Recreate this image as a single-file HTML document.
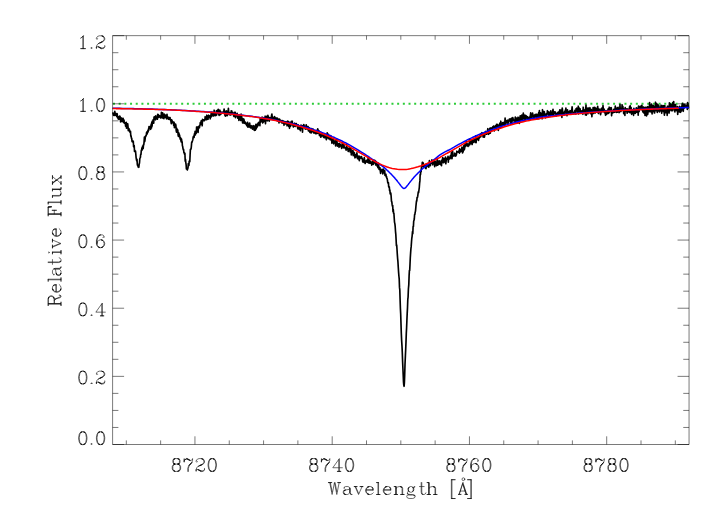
<!DOCTYPE html>
<html><head><meta charset="utf-8"><title>Spectrum</title><style>html,body{margin:0;padding:0;background:#fff;font-family:"Liberation Sans",sans-serif}svg{display:block}</style></head><body>
<svg width="723" height="516" viewBox="0 0 723 516">
<rect width="723" height="516" fill="#fff"/>
<defs><path id="g46" d="M4 -1 5 -2 6 -1 5 0 4 -1" vector-effect="non-scaling-stroke" fill="#000" fill-opacity="0.6"/><path id="g48" d="M11.5 -0.5 12 -0.5 13 -1 14 -2 15 -4 16 -9 16 -12 15 -17 14 -19 13 -20 11 -21 14 -20 12 -20.5 13 -20M11 0 13 -1M14 -1 16 -4 17 -9 17 -12 16 -17 14 -20M7 -1 8.5 -0.5 8.5 0 6 -1 9 0 7 -1 6 -2 5 -4 4 -9 4 -12 5 -17 6 -19 7 -20 9 -21 11 -21M6 -20 8.5 -21 8.5 -20.5 7 -20M9 0 11 0 14 -1 12 -0.5M9 -21 6 -20 4 -17 3 -12 3 -9 4 -4 6 -1M11.5 -20.5 12 -20.5" vector-effect="non-scaling-stroke"/><path id="g49" d="M8 -18 11 -21 10 -20 10 0 6 0 15 0 11 0 11 -21M10 -20 8 -18 6 -17M10 0 11 0" vector-effect="non-scaling-stroke"/><path id="g50" d="M14 -20 13 -20.5 12.5 -20.5M15 -20 13 -20.5M6 -3 11 -1 14 -1 16 -2 17 -3 17 -5M6 -8 8 -9 13 -11 16 -13 17 -15 17 -17 16 -19 15 -20 12 -21 8 -21 5 -20 4 -19 3 -17 3 -16 4 -15 5 -16 4 -17M3 -3 4 -6 6 -8 12 -11 15 -13 16 -15 16 -17 15 -19 14 -20 12 -21M9.5 -9.5 9 -9.5M13 -11 9.5 -9.5 9.5 -10 12 -11M3 -2 3 -3 3 0 3 -2 4 -3 6 -3 11 0 15 0 16 -1 17 -3M11 0 6.5 -2.5 6.5 -3 11 -1" vector-effect="non-scaling-stroke"/><path id="g52" d="M13 0 12 0 12 -6 2 -6 13 -21 13 -6 12 -6 12 -19M18 -6 13 -6 13 0 16 0 9 0 12 0" vector-effect="non-scaling-stroke"/><path id="g54" d="M10 -21 8 -20 6 -18 5 -16 4 -12 4 -7 4 -6 5 -3 7 -1 9 0 6 -1 4 -3 3 -6 3 -12 4 -16 5 -18 7 -20 9.5 -21 9.5 -20.5 8 -20M7 -20 10 -21 13 -21 15 -20 16 -18 16 -17 15 -16 14 -17 15 -18M11.5 -0.5 12 -0.5 13 -1 15 -3 16 -6 16 -7 15 -10 13 -12 12 -12.5 11.5 -12.5M11 0 13 -1M14 -1 16 -3 17 -6 17 -7 16 -10 14 -12 12 -12.5M4 -7 5 -10 7 -12 10 -13 11 -13 13 -12M6 -1 8 0 8.5 -0.5 7 -1M9 0 11 0 14 -1 12 -0.5M4 -12 4 -6M11 -13 14 -12" vector-effect="non-scaling-stroke"/><path id="g55" d="M3 -17 4 -19 6 -21 8 -21 12.5 -18.5 12.5 -18 8 -20 6 -20 4 -19 4.5 -19 6 -20M12 -10 15.5 -14 15.5 -14.5 11 -10 16 -15 12 -10 11 -8 10 -5 10 0M16 -15 17 -18 17 -21 16 -19 15 -18 13 -18 8 -20M9 0 9 -5 10 -8 11 -10M8 -21 13 -18M3 -17 3 -21 3 -15 3 -17" vector-effect="non-scaling-stroke"/><path id="g56" d="M6 -20 8 -21 5 -20 4 -18 4 -15 5 -13 7.5 -12 7.5 -11.5 6 -11 5 -10 4 -8 4 -4 5 -2 6 -1 7.5 -0.5 7.5 0 5 -1 4 -2 3 -4 3 -8 4 -10 5 -11 7.5 -12 7.5 -12.5 6 -13 8 -12 12 -12 15 -11 16 -10 17 -8 17 -4 16 -2 15 -1 12 0 14 -1 13 -0.5 12.5 -0.5M12.5 -12.5 13 -12.5 15 -13 12 -12 14 -13 13 -12.5M14 -20 15 -18 15 -15 14 -13M6 -1 8 0 5 -1M12.5 -11.5 13 -11.5 15 -11M6 -11 8 -12 5 -11M5 -13 8 -12M12.5 -20.5 13 -20.5 14 -20 12 -21 8 -21M15 -13 16 -15 16 -18 15 -20 13 -20.5M13 -0.5 15 -1M8 0 12 0M5 -20 7.5 -21 7.5 -20.5 6 -20 5 -18 5 -15 6 -13M14 -11 12 -12M12 -21 15 -20M14 -1 15 -2 16 -4 16 -8 15 -10 14 -11 13 -11.5" vector-effect="non-scaling-stroke"/><path id="g65" d="M5 -6 10 -21 17 0 16 0 10 -18 14 -6 5 -6 3 0 1 0 7 0 3 0 10 -21M17 0 19 0 13 0 16 0 14 -6" vector-effect="non-scaling-stroke"/><path id="g70" d="M5 0 2 0 9 0 6 0 6 -21 17 -21 18 -15 18 -21 2 -21 5 -21 6 -21 6 -11 12 -11 12 -7 12 -15 12 -11M5 -21 5 0 6 0 6 -11M17 -21 18 -21 18 -15.5 17 -21" vector-effect="non-scaling-stroke"/><path id="g82" d="M16 -20 14 -21 6 -21 6 0 9 0 2 0 5 0 5 -21 6 -21 6 -11 14 -11 17 -12 18 -13 19 -15 19 -17 18 -19 17 -20 14 -21 2 -21 5 -21M16 -12 15 -11.5 17 -12M11 -11 13 -10 13 -9.5 14 -8 16 -1 17 0 19 0 20 -2 19 -1 18 -1 17 -2 14 -9 13 -10 14 -8M5 0 6 0 6 -11 11 -11 14 -11 16 -12 17 -13 18 -15 18 -17 17 -19 16 -20 15 -20.5 17 -20M14.5 -20.5 15 -20.5M14.5 -11.5 15 -11.5M20 -3 20 -2" vector-effect="non-scaling-stroke"/><path id="g87" d="M4 -21 1 -21 8 -21 5 -21 4 -21 8 0 12 -21 16 0 20 -21 17 -21 23 -21 20 -21M13 -21 16 -5M5 -21 8 -5" vector-effect="non-scaling-stroke"/><path id="g91" d="M4 -25 5 -25 11 -25 4 -25 4 7 11 7 5 7 5 -25M4 7 5 7" vector-effect="non-scaling-stroke"/><path id="g93" d="M10 7 3 7 9 7 10 7 10 -25 3 -25 9 -25 9 7M9 -25 10 -25" vector-effect="non-scaling-stroke"/><path id="g97" d="M15 -1 16.5 0 17 0 16 -1 15 -3 15 -10 14 -12 14 -10 13 -9 7 -8 4 -7 3 -5 3 -3 4 -1 6.5 0 6.5 -0.5 5 -1 7 0 4 -1M14 -10 14 -3 12 -1 10 0 7 0M5 -7 7 -8M18 0 17 0 15 -1 14 -3 14 -12 13 -13 11 -14 7 -14 5 -13 4 -12 4 -11 5 -11 5 -12M4 -7 6.5 -8 6.5 -7.5 5 -7 4 -5 4 -3 5 -1" vector-effect="non-scaling-stroke"/><path id="g101" d="M16 -8 16 -10 15 -12 14 -13 15 -11 14 -12.5 14 -13 12 -14 9 -14 7 -13 5 -11 4 -8 16 -8 15 -8 15 -11M6 -13 4 -11 3 -8 3 -6 4 -3 6 -1 8.5 0 8.5 -0.5 7 -1 5 -3 4 -6 4 -8 15 -8M7 -1 9 0 6 -1M7 -13 8.5 -13.5 8.5 -14 6 -13 9 -14M9 0 11 0 14 -1 16 -3" vector-effect="non-scaling-stroke"/><path id="g103" d="M5 -7 6 -5.5 6 -5 8 -4 10 -4 12 -5 13 -7 13 -11 12 -12.5 12 -13 13 -12 14 -10 14 -8 13 -6 12 -5 12 -5.5 13 -7M14 -13 16 -14 16 -13 14 -13 13 -12M5 -11 5 -7 6 -5 5 -6 4 -5 3 -3 3 -2 4 -1 7 0 12 0 15 1 16 2.5 16 3 15 1M5 -6 4 -8 4 -10 5 -12 6 -13 8 -14 10 -14 12 -13 13 -11M6 0 5 0.5 3 1 2 3 2 4 3 6 6 7 12 7 15 6 16 4 16 3 15 2 12 1 7 1 5 0.5 4 0 3 -2M5 -11 6 -13 6 -12.5 5 -11" vector-effect="non-scaling-stroke"/><path id="g104" d="M14 -13.5 15 -13 13 -14 11 -14 8 -13 6 -11 6 -21 5 -21 5 0 2 0 9 0 6 0 6 -21 2 -21 5 -21M13.5 -13.5 14 -13.5 16 -13 17 -11 17 0 20 0 13 0 16 0 17 0M5 0 6 0 6 -11M16 0 16 -11 15 -13M13 -14 16 -13" vector-effect="non-scaling-stroke"/><path id="g105" d="M5 0 5 -14 2 -14 6 -14 5 -14M6 -14 6 0 9 0 2 0 5 0 6 0M5 -19 6 -20 5 -21 4 -20 5 -19" vector-effect="non-scaling-stroke"/><path id="g108" d="M5 0 2 0 9 0 6 0 6 -21 5 -21 5 0 6 0M6 -21 2 -21 5 -21" vector-effect="non-scaling-stroke"/><path id="g110" d="M14 -13.5 15 -13 13 -14 11 -14 8 -13 6 -11 6 -14 2 -14 5 -14 6 -14 6 0 9 0 2 0 5 0 5 -14M13.5 -13.5 14 -13.5 16 -13 17 -11 17 0 20 0 13 0 16 0 17 0M5 0 6 0 6 -11M16 0 16 -11 15 -13M13 -14 16 -13" vector-effect="non-scaling-stroke"/><path id="g116" d="M6 -1 7.5 0 8 0 7 -1 6 -4 6 -14 5 -14 2 -14M13 -3 12 -1 10 0 8 0 6 -1 5 -4 5 -14 5 -21M10 -14 6 -14 6 -21" vector-effect="non-scaling-stroke"/><path id="g117" d="M17 -14 13 -14 16 -14 16 -3 14 -1 11 0 9 0 7 -1 8.5 -0.5 8.5 0 6 -1 9 0M6 -1 5 -3 5 -14 2 -14 6 -14 5 -14M16 -3 16 0 20 0 17 0 17 -14 16 -14 16 0 17 0M7 -1 6 -3 6 -14" vector-effect="non-scaling-stroke"/><path id="g118" d="M4 -14 9 -2M15 -14 9 0 3 -14 1 -14 7 -14 4 -14 3 -14M15 -14 11 -14 17 -14 15 -14" vector-effect="non-scaling-stroke"/><path id="g120" d="M16 -14 10 -7.5 10 -8 5 -14 10 -7.5 16 0 15 0 12 0 18 0 16 0M4 0 10 -6.5 10 -7.5 10 -7 10 -6.5 4 -14 2 -14 8 -14 5 -14 4 -14M10 -6.5 15 0M12 -14 16 -14 18 -14 12 -14M4 0 2 0 8 0 4 0" vector-effect="non-scaling-stroke"/></defs>
<g fill="none" stroke-linejoin="round" stroke-linecap="butt">
<line x1="113" y1="103.79" x2="689" y2="103.79" stroke="#2ccc38" stroke-width="1.9" stroke-dasharray="2 3.683"/>
<polyline stroke="#000" stroke-width="1.65" points="112.6,113.5 112.9,113 113.2,114 113.5,115.2 113.8,114.5 114.1,115.5 114.5,113.7 114.8,111.4 115.1,114.9 115.4,115.2 115.7,113.3 116,113.7 116.3,114.3 116.6,116.4 116.9,114.9 117.2,113.7 117.5,117.6 117.8,116.2 118.2,119 118.5,118.1 118.8,119.3 119.1,116.5 119.4,118.6 119.7,116 120,116.4 120.3,117.3 120.6,121.9 120.9,118.5 121.2,118 121.6,118.1 121.9,121.5 122.2,119.9 122.5,121.3 122.8,121.4 123.1,118.4 123.4,122.3 123.7,121.3 124,120.1 124.3,123.2 124.6,122.8 125,122.9 125.3,123.4 125.6,126.2 125.9,124.3 126.2,122.4 126.5,128.1 126.8,124.2 127.1,126.1 127.4,128 127.7,123.7 128,126.5 128.3,130.6 128.7,128.9 129,128.7 129.3,130.7 129.6,129.9 129.9,132.1 130.2,131.7 130.5,131.4 130.8,136.2 131.1,135.8 131.4,138.1 131.7,138.2 132.1,141.6 132.4,141.6 132.7,141.9 133,141 133.3,141.5 133.6,146.8 133.9,146.9 134.2,145.5 134.5,151.4 134.8,150.3 135.1,151.6 135.5,151.2 135.8,154 136.1,157.6 136.4,159.4 136.7,160.8 137,159.3 137.3,164.3 137.6,165.6 137.9,165.6 138.2,167 138.5,166.8 138.8,167.3 139.2,163.9 139.5,163 139.8,158.7 140.1,158 140.4,157.4 140.7,154.4 141,154.4 141.3,150.3 141.6,150.4 141.9,147.9 142.2,150 142.6,146.1 142.9,148.7 143.2,148.4 143.5,144.5 143.8,144.7 144.1,141.8 144.4,137.1 144.7,141.5 145,140 145.3,137.4 145.6,135.8 146,135.9 146.3,135 146.6,132.4 146.9,131.9 147.2,133.9 147.5,131.5 147.8,130.7 148.1,132 148.4,129 148.7,130.4 149,126.6 149.3,127.4 149.7,127.1 150,127.8 150.3,126.4 150.6,129.3 150.9,127.2 151.2,124 151.5,128 151.8,122 152.1,126.2 152.4,121 152.7,123.4 153.1,119.9 153.4,120.6 153.7,123.1 154,117.5 154.3,116.7 154.6,119.1 154.9,119.1 155.2,118.6 155.5,119.8 155.8,115.8 156.1,118.6 156.5,117.5 156.8,118.7 157.1,118.2 157.4,119.2 157.7,114.4 158,116.8 158.3,114.6 158.6,116.2 158.9,117.4 159.2,116.6 159.5,116.9 159.8,115.7 160.2,116.3 160.5,116.1 160.8,118 161.1,116.9 161.4,112.4 161.7,116.6 162,117.3 162.3,114.8 162.6,112.8 162.9,118.1 163.2,115.8 163.6,116.6 163.9,118.7 164.2,114.1 164.5,115.6 164.8,115.5 165.1,117.1 165.4,115 165.7,117 166,116.4 166.3,118.4 166.6,118.9 167,114.4 167.3,118.1 167.6,116.9 167.9,117.7 168.2,118.8 168.5,119.2 168.8,117.3 169.1,119.3 169.4,119.3 169.7,119.3 170,117.5 170.3,118.8 170.7,119.7 171,121.8 171.3,123.6 171.6,119.8 171.9,120.2 172.2,122.6 172.5,121.8 172.8,121.7 173.1,122.1 173.4,122.4 173.7,125.3 174.1,122.2 174.4,127.7 174.7,124.4 175,125.6 175.3,125.4 175.6,124.1 175.9,125.4 176.2,130.7 176.5,132.2 176.8,128.3 177.1,132.2 177.5,130.9 177.8,130 178.1,135 178.4,136.4 178.7,132.8 179,133.8 179.3,134.9 179.6,135 179.9,137.3 180.2,139.2 180.5,137.6 180.8,139.8 181.2,141.9 181.5,139.1 181.8,141.4 182.1,141.8 182.4,145.7 182.7,146.6 183,148.6 183.3,149.9 183.6,149.5 183.9,152.8 184.2,152.5 184.6,154.3 184.9,153.3 185.2,161.1 185.5,159.2 185.8,162.6 186.1,164.5 186.4,168.9 186.7,169 187,168.2 187.3,169.9 187.6,168.9 188,168 188.3,163.6 188.6,163.6 188.9,165.5 189.2,161.1 189.5,161.4 189.8,161.7 190.1,155 190.4,149.4 190.7,149.2 191,149.2 191.3,147.1 191.7,142 192,142.3 192.3,141.3 192.6,140.4 192.9,139.2 193.2,136.8 193.5,136.3 193.8,136 194.1,137.4 194.4,133.8 194.7,135.2 195.1,131.3 195.4,134.9 195.7,132.2 196,131.3 196.3,133.1 196.6,127.1 196.9,127 197.2,129.9 197.5,127.2 197.8,127.4 198.1,132.4 198.4,126.7 198.8,126.9 199.1,126.2 199.4,127.8 199.7,126 200,125.4 200.3,122.5 200.6,123.7 200.9,124 201.2,120.8 201.5,124.2 201.8,123.6 202.2,125.8 202.5,119.3 202.8,120.1 203.1,119.8 203.4,120 203.7,120.7 204,120.2 204.3,120.7 204.6,120.3 204.9,119.6 205.2,116.7 205.6,118.1 205.9,119 206.2,119.7 206.5,119.6 206.8,115.2 207.1,117 207.4,117.6 207.7,118.1 208,119.3 208.3,117.1 208.6,115.2 208.9,117.3 209.3,116.8 209.6,116.6 209.9,115.8 210.2,118.8 210.5,116.1 210.8,117.1 211.1,113.7 211.4,116.6 211.7,114 212,112.1 212.3,115.3 212.7,115.7 213,114.1 213.3,114.3 213.6,116 213.9,113.2 214.2,110.2 214.5,114.3 214.8,114 215.1,115.5 215.4,112.9 215.7,115.7 216.1,115.4 216.4,110.9 216.7,114.9 217,111.2 217.3,110.3 217.6,112.6 217.9,112 218.2,109.4 218.5,113.4 218.8,114.1 219.1,115.4 219.4,112.8 219.8,110.1 220.1,111.1 220.4,114.6 220.7,114.4 221,113.7 221.3,112.2 221.6,113.1 221.9,112.3 222.2,112.1 222.5,113.2 222.8,112.7 223.2,112.2 223.5,112.8 223.8,111.7 224.1,109.1 224.4,111.5 224.7,112.4 225,115.7 225.3,111.8 225.6,116.1 225.9,115.1 226.2,110.9 226.6,111.2 226.9,112.8 227.2,115.6 227.5,113.2 227.8,113.7 228.1,111.3 228.4,108.3 228.7,112.1 229,114 229.3,114.7 229.6,112.7 229.9,113 230.3,114.8 230.6,112.6 230.9,115 231.2,110.9 231.5,111 231.8,111.1 232.1,114.1 232.4,112.3 232.7,113.6 233,114.2 233.3,114.2 233.7,116.1 234,116.5 234.3,112.4 234.6,114.4 234.9,113.7 235.2,112.4 235.5,117.6 235.8,116 236.1,114.4 236.4,114.2 236.7,115.8 237.1,113.4 237.4,115.2 237.7,118.1 238,117.8 238.3,114.9 238.6,115.8 238.9,120.4 239.2,114.7 239.5,116.3 239.8,115.2 240.1,118.6 240.4,118.7 240.8,120.5 241.1,114 241.4,119.2 241.7,116.3 242,120.6 242.3,119.4 242.6,123 242.9,120.9 243.2,118.7 243.5,123 243.8,119 244.2,120.6 244.5,123.3 244.8,122.6 245.1,122.7 245.4,122.2 245.7,123.4 246,124.2 246.3,123.5 246.6,125.1 246.9,125.8 247.2,123.8 247.6,122.4 247.9,127.1 248.2,124.5 248.5,126 248.8,126.8 249.1,123.8 249.4,126.5 249.7,123.1 250,127.4 250.3,125.5 250.6,126.8 250.9,128 251.3,125.7 251.6,127.2 251.9,126 252.2,127.3 252.5,129.2 252.8,127.5 253.1,127.3 253.4,125.7 253.7,129.1 254,127.5 254.3,130.5 254.7,126.1 255,129 255.3,130.2 255.6,126.8 255.9,124.4 256.2,128.9 256.5,127.8 256.8,126.8 257.1,127.2 257.4,124.1 257.7,125.9 258.1,125.4 258.4,122.7 258.7,124.8 259,122.3 259.3,124.6 259.6,124.7 259.9,125.6 260.2,118.6 260.5,122.4 260.8,121.1 261.1,121.3 261.4,120.7 261.8,120.7 262.1,117 262.4,122.2 262.7,122.9 263,121.7 263.3,122.1 263.6,118.1 263.9,117.7 264.2,120.8 264.5,121.5 264.8,119.5 265.2,116.2 265.5,123.8 265.8,117.6 266.1,120.4 266.4,116.4 266.7,120.2 267,118.7 267.3,120.8 267.6,119.8 267.9,115.4 268.2,116.4 268.6,118.5 268.9,119.3 269.2,121.1 269.5,118.3 269.8,117.6 270.1,117.7 270.4,117.7 270.7,119.5 271,117.6 271.3,117.5 271.6,115.1 271.9,114 272.3,117.7 272.6,118.8 272.9,117.6 273.2,118.6 273.5,118.9 273.8,117.7 274.1,119.5 274.4,116.5 274.7,117.9 275,117.3 275.3,118.2 275.7,119.2 276,119.7 276.3,118.5 276.6,119.2 276.9,117.9 277.2,118.4 277.5,121 277.8,118.5 278.1,121.2 278.4,120 278.7,119.5 279,123 279.4,119.1 279.7,119.2 280,119.9 280.3,120.6 280.6,120.6 280.9,121.9 281.2,120.8 281.5,121.5 281.8,120.5 282.1,123.1 282.4,120.7 282.8,121.1 283.1,121.8 283.4,122.6 283.7,121 284,125.3 284.3,121.6 284.6,122 284.9,122 285.2,121.9 285.5,123.9 285.8,123.2 286.2,121.7 286.5,122.1 286.8,122.6 287.1,125.8 287.4,122.2 287.7,121.1 288,121.4 288.3,122.9 288.6,126.3 288.9,121.8 289.2,123.8 289.5,128.3 289.9,123 290.2,126.5 290.5,126.2 290.8,125.1 291.1,121.7 291.4,124.8 291.7,123.7 292,121.1 292.3,121.5 292.6,124.6 292.9,125 293.3,126.9 293.6,125.9 293.9,124 294.2,124.1 294.5,124.7 294.8,123.2 295.1,126.5 295.4,125.3 295.7,123.9 296,124.3 296.3,123.5 296.7,124.8 297,126.2 297.3,125 297.6,127.6 297.9,128.8 298.2,124.9 298.5,126.1 298.8,125.6 299.1,129.3 299.4,127 299.7,127.5 300,128 300.4,130.6 300.7,127.3 301,125.1 301.3,126.1 301.6,128 301.9,127 302.2,125.7 302.5,132.2 302.8,127.5 303.1,126.4 303.4,126.3 303.8,124.5 304.1,125.7 304.4,127.2 304.7,127.4 305,126.6 305.3,129.1 305.6,128.3 305.9,126.7 306.2,124.9 306.5,128.8 306.8,128.8 307.2,128.4 307.5,126.5 307.8,129.1 308.1,126.5 308.4,131 308.7,129.7 309,129.8 309.3,128.2 309.6,127.8 309.9,132.5 310.2,131.6 310.5,129.4 310.9,131.3 311.2,133 311.5,128.5 311.8,129.6 312.1,129.7 312.4,131.6 312.7,129 313,131.4 313.3,129.2 313.6,132.9 313.9,132.9 314.3,131.1 314.6,132.9 314.9,130.5 315.2,131.4 315.5,133.7 315.8,132 316.1,132.9 316.4,130.7 316.7,133.7 317,133.4 317.3,130.6 317.7,128.9 318,129.5 318.3,133.1 318.6,132.9 318.9,130.7 319.2,133.8 319.5,135.5 319.8,133.6 320.1,133.2 320.4,135.6 320.7,137.2 321,137 321.4,133.4 321.7,136 322,135.1 322.3,134.6 322.6,134 322.9,135.9 323.2,134.5 323.5,137.1 323.8,136.3 324.1,137.7 324.4,134 324.8,136.2 325.1,137.6 325.4,137 325.7,137 326,135.5 326.3,139.7 326.6,138.9 326.9,137.8 327.2,132.8 327.5,135.8 327.8,137.8 328.2,136.5 328.5,134.3 328.8,138.5 329.1,138.9 329.4,136.3 329.7,137.7 330,137.6 330.3,139.8 330.6,135.7 330.9,136.2 331.2,138.4 331.5,138.4 331.9,143.3 332.2,138.8 332.5,140.4 332.8,139.5 333.1,139.2 333.4,141.2 333.7,143.8 334,140.3 334.3,142.4 334.6,141.9 334.9,142.5 335.3,142.2 335.6,145.9 335.9,139.8 336.2,141.7 336.5,140.4 336.8,139 337.1,142.7 337.4,146.1 337.7,144.6 338,145.4 338.3,144.3 338.7,143.5 339,147.3 339.3,143.4 339.6,146.8 339.9,143.8 340.2,144.7 340.5,145.3 340.8,145.1 341.1,146.1 341.4,146.4 341.7,148.4 342,145.7 342.4,142.6 342.7,142.6 343,143.9 343.3,145.2 343.6,147.8 343.9,144.3 344.2,147.1 344.5,147.3 344.8,147.9 345.1,147.5 345.4,148.6 345.8,148.2 346.1,150.1 346.4,149.1 346.7,144.6 347,148.9 347.3,149.4 347.6,148.3 347.9,148.2 348.2,151.5 348.5,150.2 348.8,148.4 349.2,149.7 349.5,150.2 349.8,147.9 350.1,152 350.4,150.9 350.7,152.1 351,148.8 351.3,155 351.6,153 351.9,153 352.2,151.1 352.5,151.4 352.9,150.3 353.2,155.6 353.5,151.8 353.8,153.9 354.1,154.7 354.4,152.9 354.7,155.6 355,157.8 355.3,155.1 355.6,157.3 355.9,156 356.3,154.5 356.6,154.8 356.9,152.8 357.2,156.1 357.5,158.6 357.8,157.5 358.1,158 358.4,158.8 358.7,156.1 359,158.2 359.3,160.7 359.7,156.3 360,157.9 360.3,157.3 360.6,158 360.9,157.3 361.2,158.5 361.5,156.6 361.8,158.2 362.1,158.5 362.4,158.6 362.7,162 363,160 363.4,160.3 363.7,159.6 364,162.5 364.3,157.5 364.6,160.2 364.9,162.6 365.2,163.5 365.5,161.1 365.8,160.9 366.1,162 366.4,160.7 366.8,162 367.1,160 367.4,162.3 367.7,161.1 368,159.4 368.3,156.8 368.6,162.9 368.9,162 369.2,162.7 369.5,160 369.8,163.3 370.1,162.2 370.5,161.5 370.8,163.2 371.1,163.2 371.4,162.3 371.7,165.1 372,164 372.3,162.2 372.6,161.2 372.9,161.8 373.2,164.5 373.5,162.2 373.9,160.1 374.2,160.5 374.5,161.6 374.8,163 375.1,160.5 375.4,163.4 375.7,165 376,164.9 376.3,161.6 376.6,164.3 376.9,163.2 377.3,166.5 377.6,164.6 377.9,167.7 378.2,167.4 378.5,163.4 378.8,166.8 379.1,169.4 379.4,169.1 379.7,168.8 380,167.7 380.3,171 380.6,173.4 381,171.3 381.3,171 381.6,171.1 381.9,169.3 382.2,171.2 382.5,170.5 382.8,174 383.1,170.8 383.4,169 383.7,171.4 384,172.6 384.4,173 384.7,170.6 385,175.5 385.3,174.6 385.6,174.1 385.9,174.3 386.2,176.9 386.5,176.4 386.8,178.2 387.1,178.4 387.4,179.9 387.8,182.9 388.1,182.5 388.4,182.5 388.7,187 389,187.1 389.3,186.8 389.6,190.8 389.9,190.1 390.2,194 390.5,192.7 390.8,193.2 391.1,195.9 391.5,201.5 391.8,201.7 392.1,204.4 392.4,206 392.7,205.4 393,211.6 393.3,209.6 393.6,213.4 393.9,213.3 394.2,217.8 394.5,222.1 394.9,223.9 395.2,226.7 395.5,231.3 395.8,234.3 396.1,239.6 396.4,245.6 396.7,245 397,249.2 397.3,254.1 397.6,258.3 397.9,261.3 398.3,267.7 398.6,272.4 398.9,276 399.2,278.8 399.5,287.4 399.8,289.9 400.1,299.5 400.4,308.4 400.7,314.2 401,323.9 401.3,333.1 401.6,339.9 402,346.1 402.3,352.8 402.6,361.4 402.9,368.2 403.2,375 403.5,382.1 403.8,385.1 404.1,386.3 404.4,382.6 404.7,374.6 405,364.5 405.4,355.6 405.7,349.1 406,342 406.3,333.4 406.6,327.7 406.9,320.3 407.2,313.4 407.5,307.7 407.8,299.3 408.1,297 408.4,289 408.8,284.6 409.1,275.9 409.4,270.6 409.7,270.5 410,264.4 410.3,257.6 410.6,253.1 410.9,249 411.2,246.4 411.5,242 411.8,238.3 412.1,236.3 412.5,231.6 412.8,233.8 413.1,226.6 413.4,226.6 413.7,221 414,220.4 414.3,219 414.6,214.7 414.9,214.4 415.2,212.2 415.5,211.1 415.9,206.5 416.2,203.6 416.5,200.8 416.8,200.9 417.1,197.3 417.4,197.5 417.7,196.4 418,194 418.3,191.8 418.6,192.6 418.9,190.5 419.3,187.5 419.6,183.2 419.9,180.9 420.2,174.3 420.5,174.6 420.8,171.2 421.1,171.7 421.4,168 421.7,166.6 422,166.9 422.3,162.4 422.6,165.2 423,162.6 423.3,164 423.6,166.7 423.9,166.1 424.2,164.6 424.5,165.1 424.8,165 425.1,165.5 425.4,168.1 425.7,165.1 426,168.6 426.4,163.8 426.7,165.7 427,165.5 427.3,164.5 427.6,163.5 427.9,166.4 428.2,166.8 428.5,165.5 428.8,167.1 429.1,165.1 429.4,160.5 429.8,165.1 430.1,162 430.4,165.6 430.7,162.6 431,163.6 431.3,163.2 431.6,162 431.9,159.9 432.2,162.7 432.5,162.8 432.8,164.8 433.1,162 433.5,163.5 433.8,161.6 434.1,163.2 434.4,160 434.7,166.7 435,163.7 435.3,161.6 435.6,163.8 435.9,164.6 436.2,163.7 436.5,165.7 436.9,163 437.2,158.8 437.5,161.1 437.8,165.1 438.1,164.6 438.4,163.7 438.7,161.1 439,164.3 439.3,164 439.6,161 439.9,160.9 440.3,163 440.6,164.2 440.9,164.8 441.2,163.1 441.5,165.7 441.8,160.2 442.1,162.5 442.4,160.4 442.7,157.7 443,158.8 443.3,162.8 443.6,159 444,158.4 444.3,161.6 444.6,161.9 444.9,160.2 445.2,162.7 445.5,157 445.8,163.8 446.1,161.3 446.4,159.7 446.7,159.4 447,158.5 447.4,158.2 447.7,158.9 448,156.3 448.3,162.1 448.6,158 448.9,159.1 449.2,157.4 449.5,157.1 449.8,159 450.1,158.3 450.4,155.6 450.7,156.2 451.1,157.9 451.4,152.8 451.7,152.1 452,158.8 452.3,155.4 452.6,151.3 452.9,154.2 453.2,155.1 453.5,155.6 453.8,156.1 454.1,155.3 454.5,155.7 454.8,153.2 455.1,155 455.4,154.9 455.7,156.1 456,153.8 456.3,155.1 456.6,153.6 456.9,151.2 457.2,152.2 457.5,151.7 457.9,151.7 458.2,152.1 458.5,152.2 458.8,152.3 459.1,150.1 459.4,153.2 459.7,148.6 460,150.7 460.3,151.9 460.6,151.2 460.9,151.3 461.2,149.5 461.6,150.9 461.9,147.2 462.2,150.5 462.5,153 462.8,149.9 463.1,152 463.4,148.2 463.7,145.9 464,146.4 464.3,149.8 464.6,148.5 465,143.7 465.3,146.1 465.6,146.4 465.9,144.3 466.2,141.5 466.5,143.4 466.8,145.3 467.1,144.6 467.4,143.9 467.7,145.9 468,146.5 468.4,144.2 468.7,145.8 469,143.9 469.3,143.4 469.6,139.1 469.9,144.7 470.2,143.1 470.5,142.9 470.8,141.6 471.1,140.2 471.4,142.8 471.7,143.2 472.1,144.5 472.4,142.9 472.7,140 473,140.7 473.3,142.4 473.6,141 473.9,140 474.2,138.9 474.5,140.7 474.8,139.9 475.1,142.5 475.5,141.1 475.8,135.8 476.1,142.6 476.4,139 476.7,137.8 477,138.7 477.3,139.3 477.6,137.7 477.9,137.4 478.2,137.4 478.5,140.5 478.9,137.2 479.2,138.3 479.5,137.6 479.8,136 480.1,135.1 480.4,134.4 480.7,136.8 481,134.1 481.3,133.4 481.6,133.4 481.9,132.7 482.2,135.4 482.6,135.3 482.9,133.3 483.2,137.2 483.5,134.1 483.8,135.3 484.1,134.8 484.4,137.2 484.7,135.5 485,133.7 485.3,131.8 485.6,131.5 486,133.2 486.3,133.2 486.6,134.2 486.9,131.8 487.2,132.8 487.5,131 487.8,128.7 488.1,131.8 488.4,134.3 488.7,132.9 489,133.8 489.4,133.1 489.7,128.4 490,130.2 490.3,133.2 490.6,129 490.9,127.8 491.2,130.5 491.5,131 491.8,130.2 492.1,128.9 492.4,128 492.7,126.9 493.1,126.6 493.4,126.5 493.7,126 494,127.1 494.3,131 494.6,128.2 494.9,127.3 495.2,128.4 495.5,125.8 495.8,128 496.1,128.8 496.5,124.4 496.8,125.6 497.1,126.3 497.4,124.8 497.7,124.4 498,125.6 498.3,130.5 498.6,127.1 498.9,126.6 499.2,127.4 499.5,125.1 499.9,123.1 500.2,126 500.5,127.1 500.8,121.2 501.1,125.6 501.4,126.9 501.7,124.1 502,123.6 502.3,125.5 502.6,122.7 502.9,124.9 503.2,125.6 503.6,123.4 503.9,122.3 504.2,124.7 504.5,122.8 504.8,123.5 505.1,118.1 505.4,124.4 505.7,120.5 506,123 506.3,123 506.6,121.4 507,121 507.3,120.2 507.6,121.8 507.9,123.4 508.2,123.2 508.5,121.2 508.8,120.9 509.1,119.4 509.4,121 509.7,119.8 510,118.9 510.4,121.2 510.7,124.1 511,123.4 511.3,123.8 511.6,118.2 511.9,122.5 512.2,118.7 512.5,119.8 512.8,117.6 513.1,118.8 513.4,120.7 513.7,120.8 514.1,120.2 514.4,119.9 514.7,121.1 515,120.1 515.3,117.1 515.6,122.9 515.9,119.3 516.2,121.3 516.5,119.3 516.8,118 517.1,119.5 517.5,118 517.8,122.1 518.1,117.2 518.4,120.2 518.7,117.9 519,118.6 519.3,123.4 519.6,120.1 519.9,118.3 520.2,115.8 520.5,118 520.9,118 521.2,120.8 521.5,115.7 521.8,115 522.1,118.1 522.4,118.4 522.7,120.8 523,116.3 523.3,113.1 523.6,116.5 523.9,115.4 524.2,116.6 524.6,119.3 524.9,115.1 525.2,119.6 525.5,117.7 525.8,116.8 526.1,115.7 526.4,116.4 526.7,116.4 527,118.3 527.3,119.2 527.6,116.8 528,118.1 528.3,119 528.6,118.9 528.9,117.5 529.2,119.8 529.5,118.9 529.8,119.3 530.1,116.1 530.4,115.6 530.7,112.8 531,118.8 531.3,117.4 531.7,114.6 532,116.4 532.3,116.6 532.6,113 532.9,116.5 533.2,117.8 533.5,118.1 533.8,115.2 534.1,115.2 534.4,118 534.7,117.3 535.1,114.6 535.4,114.5 535.7,116.6 536,114.3 536.3,114.4 536.6,118.4 536.9,115.8 537.2,114.5 537.5,116.2 537.8,118.8 538.1,115.6 538.5,113.8 538.8,112.3 539.1,118.7 539.4,110.5 539.7,116.8 540,113.2 540.3,112.7 540.6,113.1 540.9,114.4 541.2,116.6 541.5,113.6 541.8,115.8 542.2,118.8 542.5,109.7 542.8,113.3 543.1,111.4 543.4,115.9 543.7,111.9 544,111.6 544.3,111.7 544.6,114.3 544.9,116.2 545.2,114.5 545.6,117.8 545.9,117 546.2,113.9 546.5,115.7 546.8,114.3 547.1,114.1 547.4,110.7 547.7,111.7 548,113.9 548.3,111.8 548.6,115.1 549,114.3 549.3,112.2 549.6,115.8 549.9,114.1 550.2,115.8 550.5,113.4 550.8,110.8 551.1,114.8 551.4,113.1 551.7,115 552,115.4 552.3,115.5 552.7,110.9 553,109.4 553.3,112.5 553.6,114.5 553.9,112.1 554.2,113.8 554.5,111.9 554.8,112.7 555.1,112.7 555.4,112.1 555.7,114.1 556.1,113.8 556.4,116 556.7,113.8 557,115.4 557.3,113.2 557.6,114.6 557.9,112.8 558.2,112.1 558.5,115.3 558.8,114.2 559.1,114.4 559.5,111.5 559.8,109.8 560.1,111.3 560.4,113.3 560.7,110.2 561,115.3 561.3,110.1 561.6,113.8 561.9,117.4 562.2,108 562.5,109.8 562.8,114.3 563.2,112.2 563.5,112.9 563.8,112.3 564.1,115 564.4,113.6 564.7,111.6 565,112 565.3,110.2 565.6,112.2 565.9,108.1 566.2,113.6 566.6,111.8 566.9,115.7 567.2,114.5 567.5,109.8 567.8,113.9 568.1,111.2 568.4,112.2 568.7,114 569,112.7 569.3,113 569.6,112.9 570,110.6 570.3,110.8 570.6,113 570.9,113.6 571.2,111.4 571.5,112.1 571.8,110 572.1,106.9 572.4,110.3 572.7,111.9 573,112.2 573.3,113.4 573.7,113.5 574,113.7 574.3,112.5 574.6,112.6 574.9,110.3 575.2,112.5 575.5,112.1 575.8,114 576.1,108.5 576.4,110.7 576.7,108.2 577.1,110.1 577.4,108.7 577.7,112.1 578,110.2 578.3,106.2 578.6,114 578.9,109.2 579.2,108.1 579.5,110.7 579.8,110 580.1,108.9 580.5,112.8 580.8,110.6 581.1,113.2 581.4,112.8 581.7,112.7 582,111.7 582.3,111.1 582.6,110.4 582.9,114.3 583.2,107.2 583.5,108.9 583.8,109.8 584.2,112.1 584.5,111.5 584.8,110.1 585.1,110.4 585.4,114.9 585.7,109.7 586,105 586.3,115.2 586.6,109.1 586.9,110.4 587.2,111.4 587.6,108.2 587.9,113.8 588.2,110.8 588.5,108 588.8,111.6 589.1,112.1 589.4,110.9 589.7,112.1 590,107.7 590.3,113.1 590.6,109.1 591,113.9 591.3,109.6 591.6,111.3 591.9,116.8 592.2,111 592.5,113.4 592.8,112 593.1,107.5 593.4,113.5 593.7,113.4 594,107.7 594.3,110.7 594.7,107.4 595,110.2 595.3,112.9 595.6,111.1 595.9,108.1 596.2,108.7 596.5,110.9 596.8,110.8 597.1,111.1 597.4,112.2 597.7,106.4 598.1,110.8 598.4,113.5 598.7,111.9 599,109.1 599.3,109.3 599.6,111.1 599.9,112.3 600.2,110.7 600.5,114.7 600.8,113.8 601.1,108.8 601.5,111.8 601.8,109.8 602.1,107.8 602.4,109.1 602.7,110.6 603,105.6 603.3,109 603.6,111.5 603.9,108.9 604.2,109.6 604.5,112.6 604.8,110.4 605.2,111 605.5,115.3 605.8,111 606.1,111.2 606.4,111.6 606.7,114.5 607,111.4 607.3,110.6 607.6,110.2 607.9,113.2 608.2,108.9 608.6,113.4 608.9,111 609.2,107.2 609.5,112.1 609.8,111.7 610.1,107.7 610.4,111.3 610.7,111.1 611,109.8 611.3,107.7 611.6,115.8 611.9,112.4 612.3,112.8 612.6,113 612.9,112.4 613.2,112.4 613.5,109.5 613.8,112.5 614.1,109.9 614.4,109.2 614.7,112.1 615,109.9 615.3,106 615.7,109.4 616,111.8 616.3,110.3 616.6,112.5 616.9,109.5 617.2,107.9 617.5,112.2 617.8,110.7 618.1,107.3 618.4,111.4 618.7,109.6 619.1,112.7 619.4,112.2 619.7,111.4 620,104.5 620.3,111.1 620.6,111.4 620.9,111.5 621.2,110.4 621.5,108.3 621.8,109.5 622.1,104.7 622.4,109.4 622.8,106.2 623.1,109.2 623.4,108.4 623.7,113.7 624,110.3 624.3,110.1 624.6,110.5 624.9,115.5 625.2,107.6 625.5,110.9 625.8,111 626.2,110.5 626.5,110.5 626.8,108.8 627.1,113.2 627.4,112.3 627.7,109.1 628,109.4 628.3,110.8 628.6,111.3 628.9,112 629.2,109.9 629.6,106.6 629.9,112.6 630.2,105.7 630.5,107.5 630.8,110.9 631.1,107.6 631.4,113.6 631.7,114.3 632,113.1 632.3,110.8 632.6,110.5 632.9,111 633.3,109.4 633.6,115.4 633.9,108.3 634.2,113.4 634.5,111.4 634.8,110.7 635.1,112.7 635.4,113.3 635.7,112.3 636,109.6 636.3,107.9 636.7,108 637,112.2 637.3,111.7 637.6,112 637.9,108.3 638.2,115.1 638.5,106.1 638.8,110.8 639.1,111.6 639.4,108.5 639.7,106.6 640.1,108.5 640.4,106.5 640.7,109 641,106 641.3,105.9 641.6,109.6 641.9,105.3 642.2,108.9 642.5,109.1 642.8,111.9 643.1,110.1 643.4,107.1 643.8,113 644.1,107.4 644.4,108.3 644.7,108.5 645,115.5 645.3,109.5 645.6,107.4 645.9,111.4 646.2,108.9 646.5,115.9 646.8,107.3 647.2,111 647.5,106.7 647.8,114.4 648.1,107.1 648.4,109.8 648.7,106.8 649,111.7 649.3,110.8 649.6,102.6 649.9,111.4 650.2,111.1 650.6,109.8 650.9,112 651.2,105.6 651.5,104 651.8,111 652.1,114 652.4,105.6 652.7,105.7 653,106.6 653.3,105.6 653.6,111.4 653.9,109.4 654.3,112.9 654.6,113 654.9,106 655.2,110.8 655.5,102.2 655.8,108.6 656.1,110.7 656.4,106.5 656.7,103.5 657,107.4 657.3,112.4 657.7,107.7 658,104.7 658.3,110.2 658.6,111 658.9,105.7 659.2,108.3 659.5,112 659.8,109.8 660.1,111 660.4,107.8 660.7,108.4 661.1,105.2 661.4,106.5 661.7,113.3 662,107.4 662.3,106 662.6,107.3 662.9,105.5 663.2,110.3 663.5,111.5 663.8,105.8 664.1,111.8 664.4,115.1 664.8,105.5 665.1,110.7 665.4,109.5 665.7,112.7 666,112.5 666.3,112 666.6,109.6 666.9,107.4 667.2,115.4 667.5,106.2 667.8,112 668.2,111.7 668.5,106.4 668.8,108.7 669.1,113.1 669.4,102.8 669.7,111 670,107.7 670.3,107.8 670.6,104.1 670.9,109.8 671.2,105.3 671.6,110.6 671.9,104.9 672.2,110.7 672.5,109.4 672.8,102.5 673.1,107.3 673.4,108 673.7,101.5 674,107.2 674.3,110.8 674.6,106 674.9,111.9 675.3,104.8 675.6,104.6 675.9,110 676.2,110.1 676.5,107.7 676.8,108.2 677.1,111.2 677.4,106.5 677.7,114.4 678,109.5 678.3,109.4 678.7,109 679,107.2 679.3,111.9 679.6,106.3 679.9,108.7 680.2,110.1 680.5,112.3 680.8,111.7 681.1,107 681.4,111 681.7,107.9 682.1,104.8 682.4,104.9 682.7,103.3 683,108.9 683.3,111.3 683.6,104.9 683.9,107.1 684.2,104.6 684.5,108 684.8,104.3 685.1,105.4 685.4,105.8 685.8,106.4 686.1,106.7 686.4,107.2 686.7,107.3 687,104.9 687.3,109.5 687.6,102.6 687.9,108.2 688.2,104.9 688.5,108.2 688.8,108.6"/>
<polyline stroke="#0000ff" stroke-width="1.5" points="112.6,108.2 114.3,108.2 116,108.3 117.7,108.3 119.5,108.3 121.2,108.4 122.9,108.4 124.6,108.4 126.3,108.5 128,108.5 129.8,108.5 131.5,108.6 133.2,108.6 134.9,108.7 136.6,108.7 138.3,108.7 140,108.8 141.8,108.8 143.5,108.9 145.2,108.9 146.9,109 148.6,109 150.3,109.1 152.1,109.1 153.8,109.2 155.5,109.3 157.2,109.3 158.9,109.4 160.6,109.4 162.4,109.5 164.1,109.6 165.8,109.6 167.5,109.7 169.2,109.8 170.9,109.8 172.6,109.9 174.4,110 176.1,110.1 177.8,110.2 179.5,110.2 181.2,110.3 182.9,110.4 184.7,110.5 186.4,110.6 188.1,110.7 189.8,110.8 191.5,110.9 193.2,111 194.9,111.1 196.7,111.2 198.4,111.3 200.1,111.4 201.8,111.5 203.5,111.6 205.2,111.8 207,111.9 208.7,112 210.4,112.1 212.1,112.3 213.8,112.4 215.5,112.5 217.3,112.7 219,112.8 220.7,113 222.4,113.1 224.1,113.3 225.8,113.4 227.5,113.6 229.3,113.8 231,113.9 232.7,114.1 234.4,114.3 236.1,114.5 237.8,114.7 239.6,114.9 241.3,115.1 243,115.3 244.7,115.5 246.4,115.7 248.1,115.9 249.8,116.1 251.6,116.3 253.3,116.6 255,116.8 256.7,117.1 258.4,117.3 260.1,117.6 261.9,117.8 263.6,118.1 265.3,118.4 267,118.7 268.7,119 270.4,119.3 272.2,119.6 273.9,119.9 275.6,120.2 277.3,120.5 279,120.9 280.7,121.2 282.4,121.6 284.2,122 285.9,122.3 287.6,122.7 289.3,123.1 291,123.5 292.7,123.9 294.5,124.3 296.2,124.8 297.9,125.2 299.6,125.7 301.3,126.1 303,126.6 304.8,127.1 306.5,127.5 308.2,128 309.9,128.5 311.6,129 313.3,129.6 315,130.1 316.8,130.7 318.5,131.3 320.2,131.8 321.9,132.5 323.6,133.1 325.3,133.8 327.1,134.4 328.8,135.1 330.5,135.8 332.2,136.6 333.9,137.3 335.6,138.1 337.3,138.9 339.1,139.7 340.8,140.5 342.5,141.3 344.2,142.2 345.9,143 347.6,143.9 349.4,144.9 351.1,145.8 352.8,146.8 354.5,147.8 356.2,148.8 357.9,149.9 359.6,151 361.4,152.1 363.1,153.1 364.8,154.2 366.5,155.3 368.2,156.4 369.9,157.6 371.7,158.8 373.4,160 375.1,161.2 376.8,162.4 378.5,163.6 380.2,164.7 382,165.8 383.7,167.2 385.4,168.6 387.1,170.2 387.4,170.5 387.8,170.8 388.1,171.1 388.5,171.5 388.8,171.8 388.8,171.8 389.2,172.1 389.5,172.5 389.8,172.8 390.2,173.1 390.5,173.5 390.5,173.5 390.9,173.8 391.2,174.2 391.6,174.5 391.9,174.9 392.2,175.3 392.2,175.3 392.6,175.6 392.9,176 393.3,176.4 393.6,176.7 394,177.1 394,177.1 394.3,177.5 394.6,177.9 395,178.3 395.3,178.7 395.7,179.1 395.7,179.1 396,179.5 396.4,179.9 396.7,180.4 397.1,180.8 397.4,181.2 397.4,181.2 397.7,181.6 398.1,182.1 398.4,182.5 398.8,183 399.1,183.4 399.1,183.4 399.5,183.9 399.8,184.3 400.1,184.8 400.5,185.2 400.8,185.6 400.8,185.6 401.2,186.1 401.5,186.5 401.9,186.9 402.2,187.3 402.5,187.6 402.5,187.6 402.9,187.9 403.2,188.2 403.6,188.4 403.9,188.4 404.3,188.4 404.3,188.4 404.6,188.3 404.9,188.1 405.3,187.9 405.6,187.6 406,187.2 406,187.2 406.3,186.8 406.7,186.4 407,186 407.3,185.6 407.7,185.1 407.7,185.1 408,184.7 408.4,184.2 408.7,183.8 409.1,183.3 409.4,182.9 409.4,182.9 409.7,182.4 410.1,182 410.4,181.6 410.8,181.1 411.1,180.7 411.1,180.7 411.5,180.3 411.8,179.9 412.1,179.4 412.5,179 412.8,178.6 412.8,178.6 413.2,178.2 413.5,177.8 413.9,177.4 414.2,177 414.5,176.7 414.5,176.7 414.9,176.3 415.2,175.9 415.6,175.5 415.9,175.2 416.3,174.8 416.3,174.8 416.6,174.5 417,174.1 417.3,173.8 417.6,173.4 418,173.1 418,173.1 418.3,172.7 418.7,172.4 419,172.1 419.4,171.7 419.7,171.4 419.7,171.4 420,171.1 420.4,170.8 420.7,170.4 421.1,170.1 421.4,169.8 423.1,168.3 424.8,166.8 426.6,165.4 428.3,164.1 430,162.8 431.7,161.5 433.4,160.2 435.1,158.8 436.9,157.3 438.6,155.9 440.3,154.7 442,153.6 443.7,152.6 445.4,151.7 447.1,150.8 448.9,150 450.6,149.1 452.3,148.1 454,147.2 455.7,146.2 457.4,145.2 459.2,144.2 460.9,143.3 462.6,142.4 464.3,141.5 466,140.6 467.7,139.7 469.4,138.9 471.2,138.1 472.9,137.3 474.6,136.5 476.3,135.7 478,135 479.7,134.3 481.5,133.6 483.2,132.9 484.9,132.2 486.6,131.6 488.3,130.9 490,130.3 491.8,129.7 493.5,129.1 495.2,128.5 496.9,127.9 498.6,127.3 500.3,126.7 502,126.1 503.8,125.6 505.5,125.1 507.2,124.6 508.9,124.1 510.6,123.6 512.3,123.2 514.1,122.7 515.8,122.3 517.5,121.8 519.2,121.4 520.9,121 522.6,120.6 524.3,120.2 526.1,119.9 527.8,119.5 529.5,119.2 531.2,118.8 532.9,118.5 534.6,118.2 536.4,117.9 538.1,117.6 539.8,117.3 541.5,117 543.2,116.8 544.9,116.5 546.7,116.3 548.4,116.2 550.1,116 551.8,115.8 553.5,115.7 555.2,115.5 556.9,115.3 558.7,115.1 560.4,114.9 562.1,114.7 563.8,114.6 565.5,114.4 567.2,114.2 569,114.1 570.7,113.9 572.4,113.7 574.1,113.6 575.8,113.4 577.5,113.3 579.2,113.1 581,113 582.7,112.8 584.4,112.7 586.1,112.6 587.8,112.4 589.5,112.3 591.3,112.2 593,112.1 594.7,111.9 596.4,111.8 598.1,111.7 599.8,111.6 601.6,111.5 603.3,111.4 605,111.3 606.7,111.2 608.4,111 610.1,110.9 611.8,110.8 613.6,110.7 615.3,110.6 617,110.5 618.7,110.4 620.4,110.3 622.1,110.2 623.9,110.1 625.6,110 627.3,109.9 629,109.9 630.7,109.8 632.4,109.7 634.1,109.6 635.9,109.5 637.6,109.4 639.3,109.4 641,109.3 642.7,109.2 644.4,109.1 646.2,109.1 647.9,109 649.6,108.9 651.3,108.8 653,108.8 654.7,108.7 656.5,108.6 658.2,108.6 659.9,108.5 661.6,108.4 663.3,108.4 665,108.3 666.7,108.2 668.5,108.2 670.2,108.1 671.9,108.1 673.6,108 675.3,107.9 677,107.9 678.8,107.8 680.5,107.8 682.2,107.7 683.9,107.7 685.6,107.6 687.3,107.6 689,107.5"/>
<polyline stroke="#ff0000" stroke-width="1.55" points="112.6,108.5 114.3,108.5 116,108.6 117.7,108.6 119.5,108.6 121.2,108.6 122.9,108.7 124.6,108.7 126.3,108.7 128,108.8 129.8,108.8 131.5,108.8 133.2,108.9 134.9,108.9 136.6,108.9 138.3,109 140,109 141.8,109 143.5,109.1 145.2,109.1 146.9,109.2 148.6,109.2 150.3,109.2 152.1,109.3 153.8,109.3 155.5,109.4 157.2,109.4 158.9,109.5 160.6,109.5 162.4,109.6 164.1,109.6 165.8,109.7 167.5,109.8 169.2,109.8 170.9,109.9 172.6,110 174.4,110.1 176.1,110.2 177.8,110.3 179.5,110.3 181.2,110.4 182.9,110.5 184.7,110.6 186.4,110.7 188.1,110.8 189.8,110.9 191.5,111 193.2,111.1 194.9,111.2 196.7,111.4 198.4,111.5 200.1,111.6 201.8,111.7 203.5,111.8 205.2,111.9 207,112.1 208.7,112.2 210.4,112.3 212.1,112.5 213.8,112.6 215.5,112.7 217.3,112.9 219,113 220.7,113.2 222.4,113.3 224.1,113.5 225.8,113.7 227.5,113.8 229.3,114 231,114.2 232.7,114.3 234.4,114.5 236.1,114.7 237.8,114.9 239.6,115.1 241.3,115.3 243,115.5 244.7,115.7 246.4,115.9 248.1,116.1 249.8,116.4 251.6,116.6 253.3,116.8 255,117.1 256.7,117.3 258.4,117.6 260.1,117.9 261.9,118.1 263.6,118.4 265.3,118.7 267,119 268.7,119.3 270.4,119.6 272.2,119.9 273.9,120.2 275.6,120.6 277.3,120.9 279,121.3 280.7,121.6 282.4,122 284.2,122.4 285.9,122.8 287.6,123.2 289.3,123.6 291,124 292.7,124.5 294.5,124.9 296.2,125.4 297.9,125.9 299.6,126.3 301.3,126.8 303,127.4 304.8,127.9 306.5,128.4 308.2,129 309.9,129.5 311.6,130.1 313.3,130.6 315,131.2 316.8,131.8 318.5,132.4 320.2,133 321.9,133.7 323.6,134.3 325.3,135 327.1,135.7 328.8,136.5 330.5,137.2 332.2,138 333.9,138.8 335.6,139.6 337.3,140.4 339.1,141.3 340.8,142.1 342.5,143 344.2,143.9 345.9,144.8 347.6,145.8 349.4,146.7 351.1,147.7 352.8,148.6 354.5,149.6 356.2,150.6 357.9,151.6 359.6,152.6 361.4,153.6 363.1,154.7 364.8,155.7 366.5,156.7 368.2,157.7 369.9,158.7 371.7,159.6 373.4,160.6 375.1,161.5 376.8,162.4 378.5,163.3 380.2,164.1 382,164.9 383.7,165.6 385.4,166.3 387.1,166.9 388.8,167.5 390.5,168 392.2,168.4 394,168.7 395.7,169 397.4,169.3 399.1,169.4 400.8,169.5 402.5,169.5 404.3,169.5 406,169.4 407.7,169.2 409.4,168.9 411.1,168.6 412.8,168.2 414.5,167.8 416.3,167.3 418,166.8 419.7,166.2 421.4,165.7 423.1,165 424.8,164.4 426.6,163.7 428.3,163 430,162.2 431.7,161.5 433.4,160.7 435.1,159.9 436.9,159 438.6,158.1 440.3,157.2 442,156.2 443.7,155.2 445.4,154.2 447.1,153.2 448.9,152.2 450.6,151.3 452.3,150.3 454,149.3 455.7,148.4 457.4,147.4 459.2,146.4 460.9,145.4 462.6,144.4 464.3,143.5 466,142.5 467.7,141.6 469.4,140.7 471.2,139.9 472.9,139 474.6,138.2 476.3,137.5 478,136.7 479.7,135.9 481.5,135.2 483.2,134.5 484.9,133.8 486.6,133.1 488.3,132.5 490,131.8 491.8,131.2 493.5,130.6 495.2,130 496.9,129.4 498.6,128.8 500.3,128.2 502,127.7 503.8,127.1 505.5,126.6 507.2,126.1 508.9,125.6 510.6,125.1 512.3,124.6 514.1,124.1 515.8,123.6 517.5,123.2 519.2,122.7 520.9,122.3 522.6,121.9 524.3,121.5 526.1,121.1 527.8,120.8 529.5,120.4 531.2,120.1 532.9,119.8 534.6,119.5 536.4,119.2 538.1,118.9 539.8,118.6 541.5,118.3 543.2,118 544.9,117.8 546.7,117.5 548.4,117.2 550.1,117 551.8,116.8 553.5,116.5 555.2,116.3 556.9,116.1 558.7,115.8 560.4,115.6 562.1,115.4 563.8,115.2 565.5,115 567.2,114.8 569,114.6 570.7,114.5 572.4,114.3 574.1,114.1 575.8,113.9 577.5,113.8 579.2,113.6 581,113.4 582.7,113.3 584.4,113.1 586.1,113 587.8,112.8 589.5,112.7 591.3,112.6 593,112.4 594.7,112.3 596.4,112.2 598.1,112 599.8,111.9 601.6,111.8 603.3,111.7 605,111.5 606.7,111.4 608.4,111.3 610.1,111.2 611.8,111.1 613.6,111 615.3,110.9 617,110.8 618.7,110.7 620.4,110.6 622.1,110.5 623.9,110.4 625.6,110.3 627.3,110.2 629,110.1 630.7,110.1 632.4,110 634.1,109.9 635.9,109.8 637.6,109.7 639.3,109.6 641,109.6 642.7,109.5 644.4,109.4 646.2,109.3 647.9,109.3 649.6,109.2 651.3,109.1 653,109.1 654.7,109 656.5,108.9 658.2,108.9 659.9,108.8 661.6,108.8 663.3,108.7 665,108.6 666.7,108.6 668.5,108.5 670.2,108.5 671.9,108.4 673.6,108.4 675.3,108.3 677,108.2 678.8,108.2"/>
</g>
<g fill="none" stroke="#000" stroke-width="0.8" stroke-opacity="0.66"><path d="M112.6 35.65H689.05V444.5H112.6Z"/><path d="M126.32 444.5v-4.1M126.32 35.65v4.1M160.64 444.5v-4.1M160.64 35.65v4.1M194.95 444.5v-8.2M194.95 35.65v8.2M229.26 444.5v-4.1M229.26 35.65v4.1M263.57 444.5v-4.1M263.57 35.65v4.1M297.89 444.5v-4.1M297.89 35.65v4.1M332.2 444.5v-8.2M332.2 35.65v8.2M366.51 444.5v-4.1M366.51 35.65v4.1M400.82 444.5v-4.1M400.82 35.65v4.1M435.14 444.5v-4.1M435.14 35.65v4.1M469.45 444.5v-8.2M469.45 35.65v8.2M503.76 444.5v-4.1M503.76 35.65v4.1M538.07 444.5v-4.1M538.07 35.65v4.1M572.39 444.5v-4.1M572.39 35.65v4.1M606.7 444.5v-8.2M606.7 35.65v8.2M641.01 444.5v-4.1M641.01 35.65v4.1M675.32 444.5v-4.1M675.32 35.65v4.1M112.6 444.5h11.5M689.05 444.5h-11.5M112.6 427.46h5.8M689.05 427.46h-5.8M112.6 410.43h5.8M689.05 410.43h-5.8M112.6 393.39h5.8M689.05 393.39h-5.8M112.6 376.36h11.5M689.05 376.36h-11.5M112.6 359.32h5.8M689.05 359.32h-5.8M112.6 342.29h5.8M689.05 342.29h-5.8M112.6 325.25h5.8M689.05 325.25h-5.8M112.6 308.22h11.5M689.05 308.22h-11.5M112.6 291.18h5.8M689.05 291.18h-5.8M112.6 274.15h5.8M689.05 274.15h-5.8M112.6 257.11h5.8M689.05 257.11h-5.8M112.6 240.07h11.5M689.05 240.07h-11.5M112.6 223.04h5.8M689.05 223.04h-5.8M112.6 206h5.8M689.05 206h-5.8M112.6 188.97h5.8M689.05 188.97h-5.8M112.6 171.93h11.5M689.05 171.93h-11.5M112.6 154.9h5.8M689.05 154.9h-5.8M112.6 137.86h5.8M689.05 137.86h-5.8M112.6 120.83h5.8M689.05 120.83h-5.8M112.6 103.79h11.5M689.05 103.79h-11.5M112.6 86.76h5.8M689.05 86.76h-5.8M112.6 69.72h5.8M689.05 69.72h-5.8M112.6 52.69h5.8M689.05 52.69h-5.8M112.6 35.65h11.5M689.05 35.65h-11.5"/></g>
<g fill="none" stroke="#000" stroke-opacity="0.72" stroke-width="0.8" stroke-linecap="round" stroke-linejoin="round" vector-effect="non-scaling-stroke"><g transform="translate(194.35 471.4) scale(0.597 0.61)"><use href="#g56" x="-40"/><use href="#g55" x="-20"/><use href="#g50" x="0"/><use href="#g48" x="20"/></g><g transform="translate(331.6 471.4) scale(0.597 0.61)"><use href="#g56" x="-40"/><use href="#g55" x="-20"/><use href="#g52" x="0"/><use href="#g48" x="20"/></g><g transform="translate(468.85 471.4) scale(0.597 0.61)"><use href="#g56" x="-40"/><use href="#g55" x="-20"/><use href="#g54" x="0"/><use href="#g48" x="20"/></g><g transform="translate(606.1 471.4) scale(0.597 0.61)"><use href="#g56" x="-40"/><use href="#g55" x="-20"/><use href="#g56" x="0"/><use href="#g48" x="20"/></g><g transform="translate(106.5 444.6) scale(0.592 0.61)"><use href="#g48" x="-50"/><use href="#g46" x="-30"/><use href="#g48" x="-20"/></g><g transform="translate(106.5 383.96) scale(0.592 0.61)"><use href="#g48" x="-50"/><use href="#g46" x="-30"/><use href="#g50" x="-20"/></g><g transform="translate(106.5 315.82) scale(0.592 0.61)"><use href="#g48" x="-50"/><use href="#g46" x="-30"/><use href="#g52" x="-20"/></g><g transform="translate(106.5 247.67) scale(0.592 0.61)"><use href="#g48" x="-50"/><use href="#g46" x="-30"/><use href="#g54" x="-20"/></g><g transform="translate(106.5 179.53) scale(0.592 0.61)"><use href="#g48" x="-50"/><use href="#g46" x="-30"/><use href="#g56" x="-20"/></g><g transform="translate(106.5 111.39) scale(0.592 0.61)"><use href="#g49" x="-50"/><use href="#g46" x="-30"/><use href="#g48" x="-20"/></g><g transform="translate(106.5 48.6) scale(0.592 0.61)"><use href="#g49" x="-50"/><use href="#g46" x="-30"/><use href="#g50" x="-20"/></g><g transform="translate(327.4 494.5) scale(0.588 0.568)"><use href="#g87" x="0"/><use href="#g97" x="24"/><use href="#g118" x="44"/><use href="#g101" x="62"/><use href="#g108" x="81"/><use href="#g101" x="92"/><use href="#g110" x="111"/><use href="#g103" x="133"/><use href="#g116" x="154.5"/><use href="#g104" x="167"/></g><g transform="translate(449 494.4) scale(0.588 0.588)"><use href="#g91" x="0"/></g><g transform="translate(457.5 494.4) scale(0.545 0.56)"><use href="#g65" x="0"/></g><g transform="translate(465.5 494.4) scale(0.588 0.588)"><use href="#g93" x="0"/></g><circle cx="463.4" cy="479.2" r="1.4"/><g transform="translate(61 240.6) rotate(-90) scale(0.594 0.61)"><use href="#g82" x="-112"/><use href="#g101" x="-90"/><use href="#g108" x="-71"/><use href="#g97" x="-61.7"/><use href="#g116" x="-42"/><use href="#g105" x="-25"/><use href="#g118" x="-14"/><use href="#g101" x="4"/><use href="#g70" x="39"/><use href="#g108" x="59"/><use href="#g117" x="70"/><use href="#g120" x="92"/></g></g>
</svg>
</body></html>
